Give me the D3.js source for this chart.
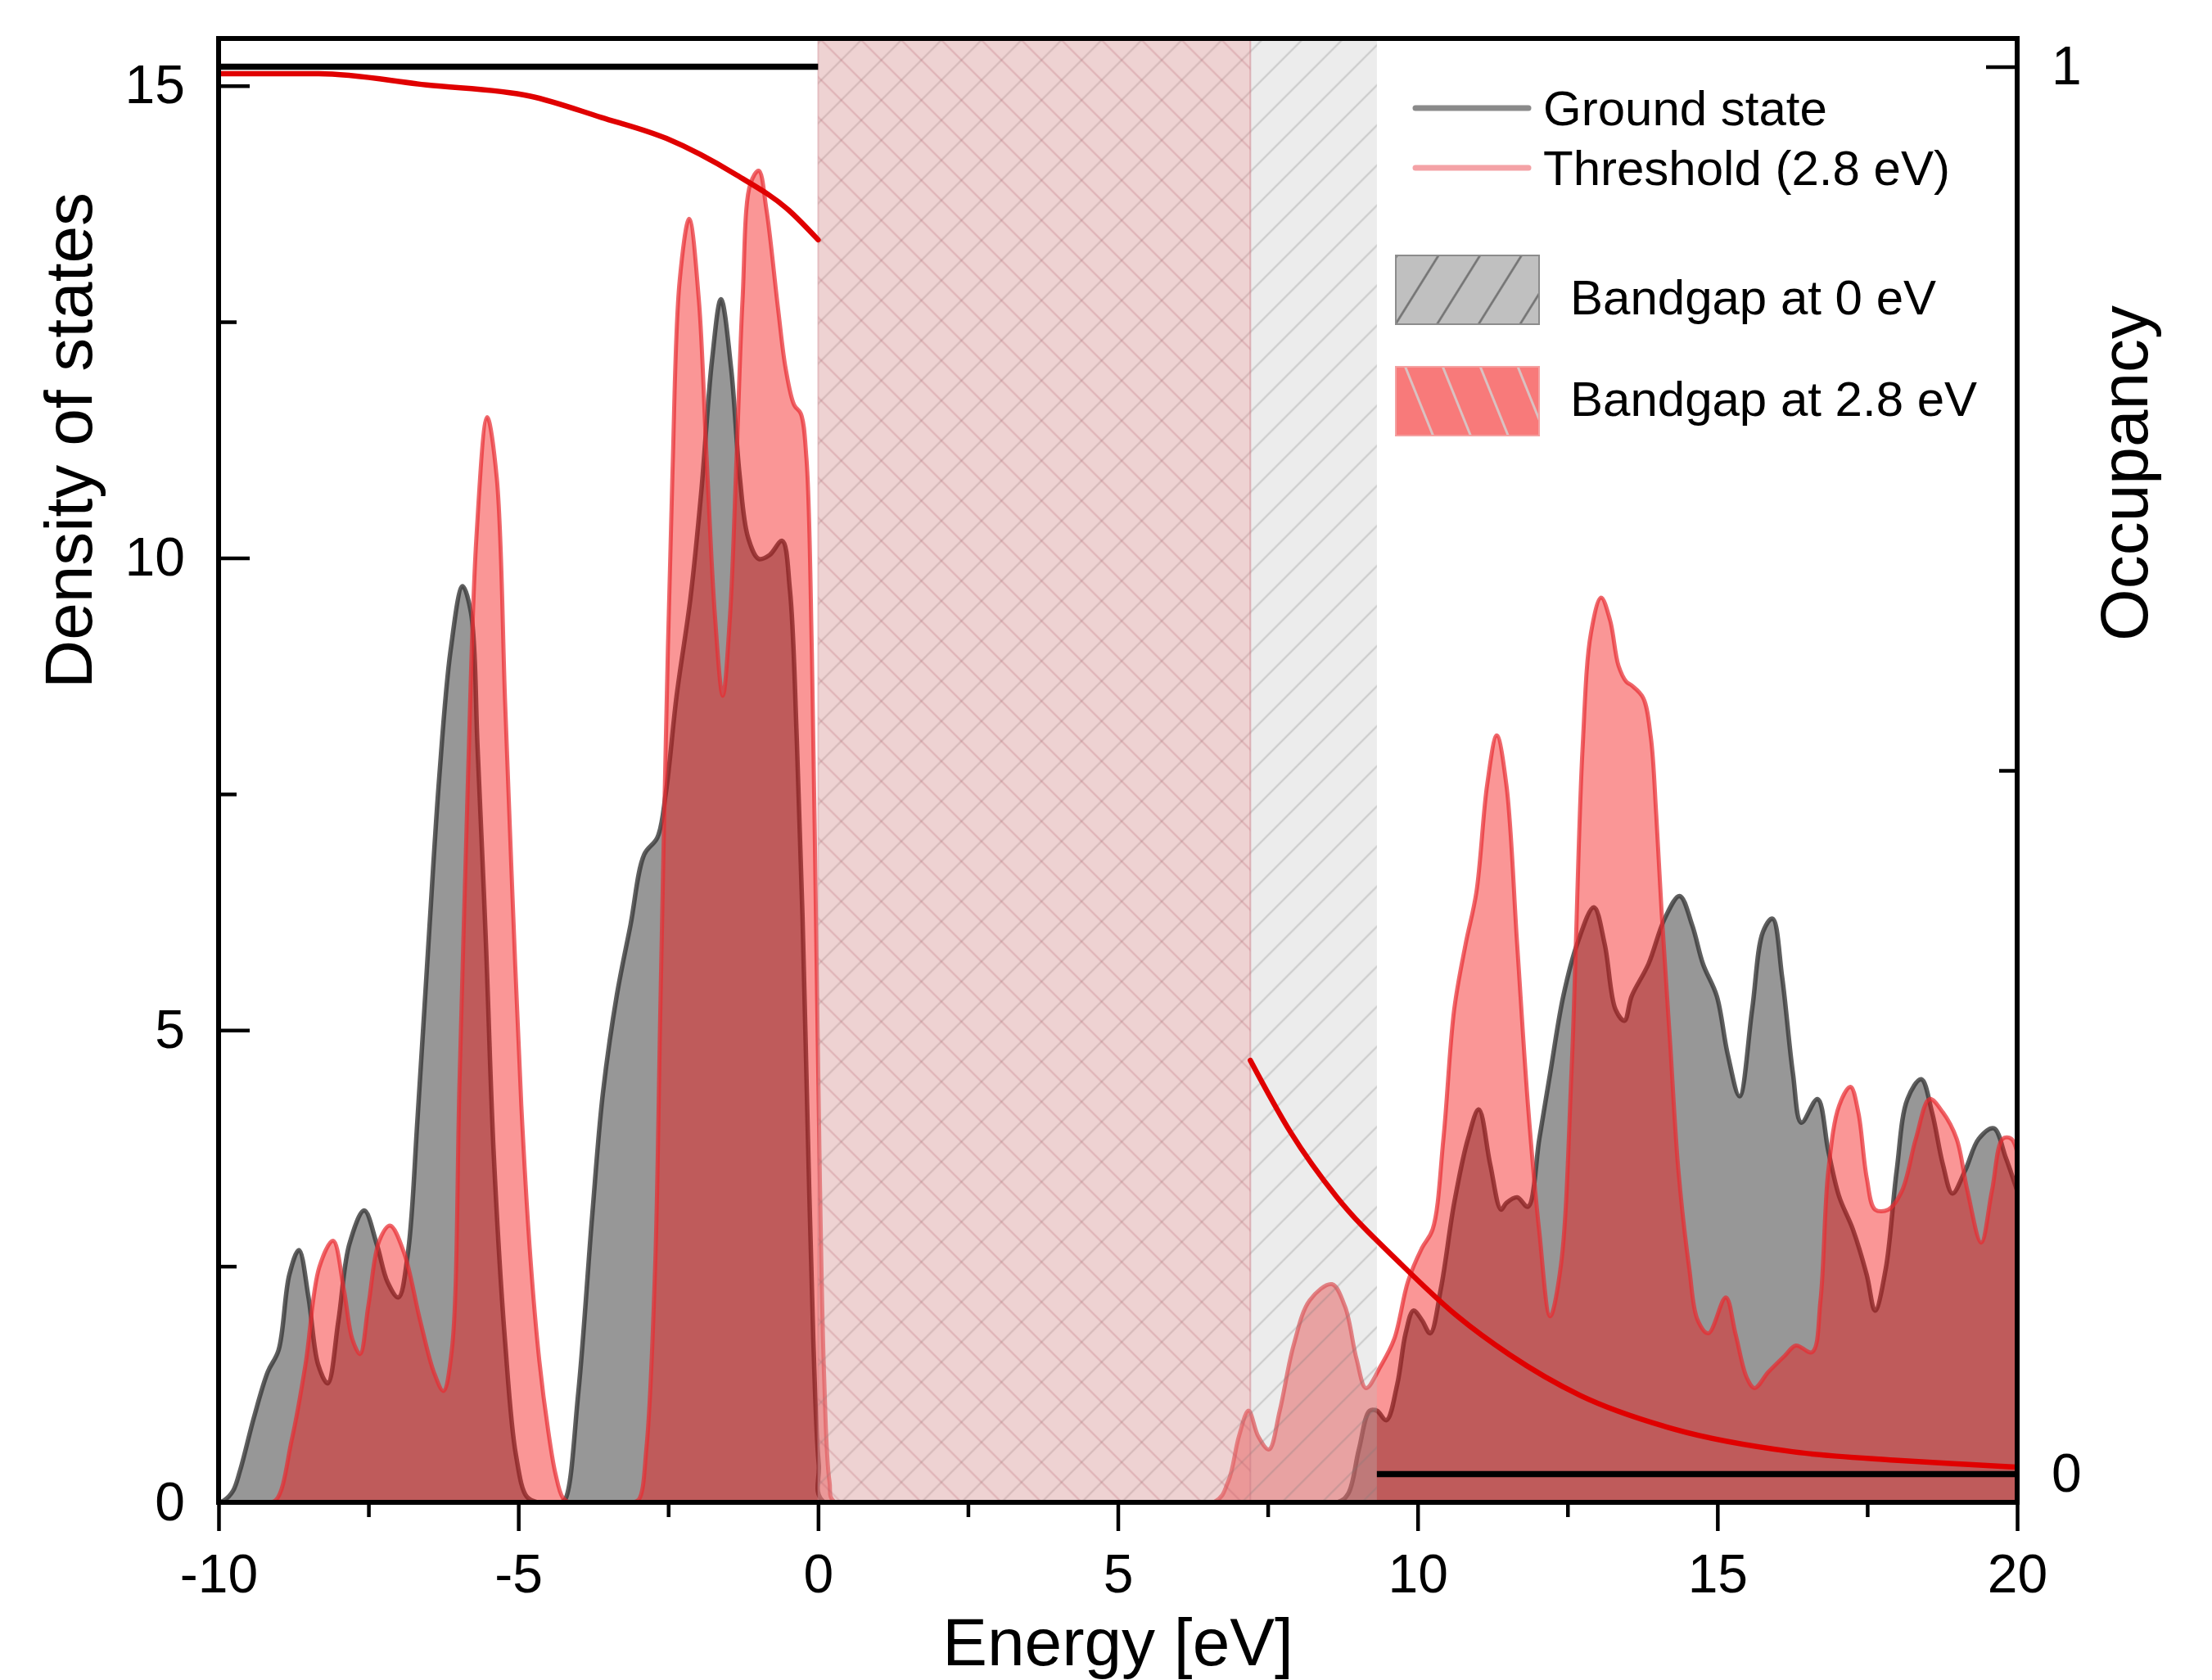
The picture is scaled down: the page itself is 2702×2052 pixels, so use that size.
<!DOCTYPE html>
<html>
<head>
<meta charset="utf-8">
<script src="https://cdn.jsdelivr.net/npm/d3@7"></script>
<style>
  html, body { margin: 0; padding: 0; background: #fff; }
  svg { display: block; font-family: Arial, "Liberation Sans", sans-serif; }
</style>
</head>
<body>
<svg id="chart" width="2702" height="2052"></svg>
<script>
// ---- Density of states, ground state (energy in eV, DOS) ----
const groundEnergy = [-10, -9.91, -9.76, -9.64, -9.41, -9.18, -9.0, -8.82, -8.66, -8.5, -8.34, -8.18, -8.0, -7.82, -7.57, -7.36, -7.18, -7.0, -6.84, -6.68, -6.5, -6.32, -6.13, -5.93, -5.79, -5.68, -5.54, -5.41, -5.22, -5.04, -4.86, -4.68,
  -4.3, -4.22, -4.0, -3.77, -3.59, -3.36, -3.13, -2.9, -2.68, -2.54, -2.36, -2.13, -1.95, -1.77, -1.62, -1.45, -1.31, -1.17, -0.99, -0.81, -0.6, -0.47, -0.355, -0.26, -0.17, -0.08, 0.01, 0.1,
  8.66, 8.84, 9.02, 9.2, 9.32, 9.48, 9.66, 9.8, 9.93, 10.07, 10.21, 10.39, 10.61, 10.84, 11.02, 11.21, 11.39, 11.48, 11.66, 11.84, 12.03, 12.21, 12.43, 12.66, 12.94, 13.12, 13.3, 13.45, 13.57, 13.85, 14.12, 14.37, 14.58, 14.76, 14.99, 15.17, 15.37, 15.58, 15.76, 15.92, 16.08, 16.26, 16.4, 16.67, 16.85, 17.03, 17.26, 17.49, 17.63, 17.81, 17.99, 18.17, 18.4, 18.58, 18.76, 18.92, 19.13, 19.36, 19.61, 19.81, 20];
const groundDos = [0, 0.02, 0.12, 0.34, 0.9, 1.38, 1.61, 2.41, 2.67, 2.17, 1.46, 1.26, 1.93, 2.73, 3.09, 2.73, 2.33, 2.17, 2.65, 4.08, 5.91, 7.67, 9.02, 9.7, 9.42, 7.99, 5.91, 3.68, 1.69, 0.5, 0.06, 0,
  0, 0.03, 1.16, 3.02, 4.33, 5.36, 6.11, 6.86, 7.04, 7.51, 8.54, 9.57, 10.69, 12.09, 12.74, 12.0, 10.88, 10.22, 9.99, 10.03, 10.18, 9.66, 8.07, 6.2, 3.87, 1.72, 0.41, 0,
  0, 0.09, 0.56, 0.97, 0.97, 0.87, 1.25, 1.79, 2.03, 1.93, 1.79, 2.27, 3.17, 3.85, 4.16, 3.58, 3.1, 3.17, 3.23, 3.13, 3.85, 4.54, 5.36, 5.91, 6.3, 5.91, 5.22, 5.1, 5.36, 5.7, 6.18, 6.42, 6.11, 5.7, 5.36, 4.75, 4.3, 5.22, 6.04, 6.18, 5.56, 4.54, 4.02, 4.27, 3.72, 3.24, 2.89, 2.41, 2.03, 2.48, 3.51, 4.27, 4.48, 4.13, 3.58, 3.27, 3.51, 3.85, 3.96, 3.65, 3.3];

// ---- Density of states at the 2.8 eV threshold ----
const thresholdEnergy = [-10, -9.3, -9.05, -8.78, -8.55, -8.32, -8.09, -7.91, -7.77, -7.64, -7.5, -7.32, -7.14, -6.91, -6.64, -6.41, -6.25, -6.11, -5.98, -5.84, -5.7, -5.52, -5.36, -5.22, -5.09, -4.95, -4.8, -4.65, -4.5, -4.38, -4.26, -4.15,
  -3.1, -2.99, -2.86, -2.72, -2.63, -2.54, -2.43, -2.31, -2.15, -1.99, -1.86, -1.72, -1.59, -1.47, -1.36, -1.26, -1.13, -0.99, -0.86, -0.67, -0.54, -0.4, -0.29, -0.195, -0.104, -0.036, 0.03, 0.1, 0.19, 0.28,
  6.6, 6.84, 7.02, 7.18, 7.34, 7.52, 7.7, 7.93, 8.2, 8.57, 8.79, 8.98, 9.14, 9.39, 9.61, 9.84, 10.07, 10.25, 10.43, 10.61, 10.8, 10.98, 11.16, 11.32, 11.48, 11.66, 11.84, 12.03, 12.21, 12.39, 12.57, 12.75, 12.89, 13.06, 13.21, 13.35, 13.48, 13.57, 13.76, 13.89, 13.98, 14.07, 14.21, 14.35, 14.53, 14.67, 14.85, 15.14, 15.3, 15.49, 15.62, 15.85, 16.12, 16.31, 16.58, 16.72, 16.85, 17.03, 17.22, 17.35, 17.49, 17.63, 17.85, 18.08, 18.31, 18.54, 18.76, 18.99, 19.17, 19.4, 19.58, 19.76, 19.9, 20];
const thresholdDos = [0, 0, 0.02, 0.66, 1.46, 2.49, 2.77, 2.25, 1.73, 1.57, 2.09, 2.77, 2.93, 2.65, 1.93, 1.38, 1.18, 1.61, 4.48, 7.67, 10.21, 11.49, 10.85, 8.46, 6.3, 4.2, 2.6, 1.5, 0.75, 0.3, 0.05, 0,
  0, 0.03, 0.6, 2.46, 5.27, 8.07, 10.88, 12.93, 13.59, 12.74, 11.06, 9.38, 8.54, 9.38, 11.06, 12.74, 13.96, 14.1, 13.68, 12.65, 12.0, 11.62, 11.53, 11.06, 9.0, 6.2, 3.4, 1.34, 0.22, 0,
  0, 0.22, 0.7, 0.97, 0.7, 0.56, 0.97, 1.66, 2.14, 2.31, 2.07, 1.52, 1.21, 1.45, 1.73, 2.34, 2.69, 2.89, 3.85, 5.22, 5.91, 6.46, 7.6, 8.12, 7.6, 5.91, 4.21, 2.86, 1.97, 2.51, 4.61, 7.97, 9.2, 9.58, 9.34, 8.86, 8.69, 8.65, 8.52, 8.1, 7.28, 6.25, 4.88, 3.51, 2.48, 1.93, 1.79, 2.17, 1.79, 1.32, 1.21, 1.38, 1.55, 1.66, 1.59, 2.14, 3.51, 4.2, 4.4, 4.13, 3.44, 3.1, 3.1, 3.3, 3.85, 4.27, 4.13, 3.85, 3.3, 2.75, 3.3, 3.85, 3.85, 3.71];

// ---- Occupancy (right axis) ----
const groundOccValenceE = [-10, 0];
const groundOccValence = [1, 1];
const groundOccConductionE = [9.32, 20];
const groundOccConduction = [0, 0];
const thresholdOccValenceE = [-10, -8.33, -6.53, -4.8, -3.62, -2.53, -1.36, -0.49, 0];
const thresholdOccValence = [0.995, 0.995, 0.987, 0.979, 0.964, 0.949, 0.923, 0.898, 0.877];
const thresholdOccConductionE = [7.21, 7.88, 8.65, 9.73, 10.67, 11.53, 12.71, 14.28, 16.25, 17.95, 19.13, 20];
const thresholdOccConduction = [0.294, 0.243, 0.197, 0.149, 0.112, 0.085, 0.056, 0.032, 0.016, 0.01, 0.007, 0.005];

// ---- Band gaps (eV) ----
const gapGroundStart = 0, gapGroundEnd = 9.32;
const gapThresholdStart = 0, gapThresholdEnd = 7.21;

// ---- Axis ticks ----
const xMajorTicks = [-10, -5, 0, 5, 10, 15, 20];
const xMinorTicks = [-7.5, -2.5, 2.5, 7.5, 12.5, 17.5];
const yMajorTicks = [0, 5, 10, 15];
const yMinorTicks = [2.5, 7.5, 12.5];
const occMajorTicks = [0, 1];
const occMinorTicks = [0.5];

const legendLines = ["Ground state", "Threshold (2.8 eV)"];
const legendBoxes = ["Bandgap at 0 eV", "Bandgap at 2.8 eV"];

// ---------------------------------------------------------------
const svg = d3.select("#chart");
const L = 267, R = 2464, T = 47, B = 1835;

const x = d3.scaleLinear().domain([-10, 20]).range([L, R]);
const y = d3.scaleLinear().domain([0, 15.5]).range([B, T]);
const yOcc = d3.scaleLinear().domain([-0.02, 1.02]).range([B, T]);

const zip = (a, b) => a.map((v, i) => [v, b[i]]);
const ground = zip(groundEnergy, groundDos);
const threshold = zip(thresholdEnergy, thresholdDos);

const defs = svg.append("defs");
defs.append("clipPath").attr("id", "plotClip")
  .append("rect").attr("x", L).attr("y", T).attr("width", R - L).attr("height", B - T);

function hatch(id, angle, spacing, color, width) {
  const p = defs.append("pattern").attr("id", id)
    .attr("patternUnits", "userSpaceOnUse")
    .attr("width", spacing).attr("height", spacing)
    .attr("patternTransform", `rotate(${angle})`);
  p.append("line")
    .attr("x1", spacing / 2).attr("x2", spacing / 2)
    .attr("y1", -1).attr("y2", spacing + 1)
    .attr("stroke", color).attr("stroke-width", width);
}
hatch("hatchGap0", 45, 34.6, "rgba(120,120,120,0.3)", 2);
hatch("hatchGap28", -45, 34.6, "rgba(180,90,105,0.28)", 2);
hatch("hatchLegend0", 32, 43, "#6f6f6f", 2.5);
hatch("hatchLegend28", -22, 42.5, "#d9c2c2", 3);

const plot = svg.append("g").attr("clip-path", "url(#plotClip)");

const smooth = d3.curveCatmullRom.alpha(0.5);
const area = d3.area().x(d => x(d[0])).y0(y(0)).y1(d => y(Math.max(0, d[1]))).curve(smooth);
const line = d3.line().x(d => x(d[0])).y(d => y(d[1])).curve(smooth);

// ground-state DOS
plot.append("path").datum(ground).attr("d", area).attr("fill", "#979797");
plot.append("path").datum(ground).attr("d", line)
  .attr("fill", "none").attr("stroke", "rgba(55,55,55,0.8)").attr("stroke-width", 5.5)
  .attr("stroke-linejoin", "round");

// threshold DOS (translucent, on top)
plot.append("path").datum(threshold).attr("d", area).attr("fill", "rgba(244,16,16,0.44)");
plot.append("path").datum(threshold).attr("d", line)
  .attr("fill", "none").attr("stroke", "rgba(232,45,50,0.72)").attr("stroke-width", 5)
  .attr("stroke-linejoin", "round");

// band gap shading
plot.append("rect")
  .attr("x", x(gapGroundStart)).attr("y", T)
  .attr("width", x(gapGroundEnd) - x(gapGroundStart)).attr("height", B - T)
  .attr("fill", "rgba(192,192,192,0.3)");
plot.append("rect")
  .attr("x", x(gapGroundStart)).attr("y", T)
  .attr("width", x(gapGroundEnd) - x(gapGroundStart)).attr("height", B - T)
  .attr("fill", "url(#hatchGap0)");
plot.append("rect")
  .attr("x", x(gapThresholdStart)).attr("y", T)
  .attr("width", x(gapThresholdEnd) - x(gapThresholdStart)).attr("height", B - T)
  .attr("fill", "rgba(248,120,120,0.22)");
plot.append("rect")
  .attr("x", x(gapThresholdStart)).attr("y", T)
  .attr("width", x(gapThresholdEnd) - x(gapThresholdStart)).attr("height", B - T)
  .attr("fill", "url(#hatchGap28)");
plot.append("line")
  .attr("x1", x(gapThresholdEnd)).attr("x2", x(gapThresholdEnd)).attr("y1", T).attr("y2", B)
  .attr("stroke", "rgba(200,120,130,0.45)").attr("stroke-width", 2);
plot.append("line")
  .attr("x1", x(gapThresholdStart)).attr("x2", x(gapThresholdStart)).attr("y1", T).attr("y2", B)
  .attr("stroke", "rgba(200,120,130,0.35)").attr("stroke-width", 2);

// occupancy curves
const occLine = d3.line().x(d => x(d[0])).y(d => yOcc(d[1])).curve(d3.curveMonotoneX);
[[groundOccValenceE, groundOccValence], [groundOccConductionE, groundOccConduction]].forEach(([e, o]) => {
  plot.append("path").datum(zip(e, o)).attr("d", occLine)
    .attr("fill", "none").attr("stroke", "#000").attr("stroke-width", 7.5);
});
[[thresholdOccValenceE, thresholdOccValence], [thresholdOccConductionE, thresholdOccConduction]].forEach(([e, o]) => {
  plot.append("path").datum(zip(e, o)).attr("d", occLine)
    .attr("fill", "none").attr("stroke", "#e00000").attr("stroke-width", 6.5)
    .attr("stroke-linecap", "round");
});

// ---- axes ----
const tickFont = 66;
const plain = d => String(d);
function styleAxis(g) {
  g.select(".domain").remove();
  g.selectAll(".tick line").attr("stroke", "#000").attr("stroke-width", 4.5);
  g.selectAll(".tick text").attr("font-size", tickFont).attr("fill", "#000")
    .attr("font-family", "Arial, 'Liberation Sans', sans-serif");
}
svg.append("g").attr("transform", `translate(0,${B})`)
  .call(d3.axisBottom(x).tickValues(xMajorTicks).tickSize(35).tickPadding(28).tickFormat(plain))
  .call(styleAxis);
svg.append("g").attr("transform", `translate(0,${B})`)
  .call(d3.axisBottom(x).tickValues(xMinorTicks).tickSize(18).tickFormat(""))
  .call(styleAxis);
svg.append("g").attr("transform", `translate(${L},0)`)
  .call(d3.axisLeft(y).tickValues(yMajorTicks).tickSizeInner(-38).tickSizeOuter(0).tickPadding(41).tickFormat(plain))
  .call(styleAxis);
svg.append("g").attr("transform", `translate(${L},0)`)
  .call(d3.axisLeft(y).tickValues(yMinorTicks).tickSizeInner(-22).tickSizeOuter(0).tickFormat(""))
  .call(styleAxis);
svg.append("g").attr("transform", `translate(${R},0)`)
  .call(d3.axisRight(yOcc).tickValues(occMajorTicks).tickSizeInner(-38).tickSizeOuter(0).tickPadding(42).tickFormat(plain))
  .call(styleAxis);
svg.append("g").attr("transform", `translate(${R},0)`)
  .call(d3.axisRight(yOcc).tickValues(occMinorTicks).tickSizeInner(-22).tickSizeOuter(0).tickFormat(""))
  .call(styleAxis);

// frame
svg.append("rect").attr("x", L).attr("y", T).attr("width", R - L).attr("height", B - T)
  .attr("fill", "none").attr("stroke", "#000").attr("stroke-width", 6);

// axis titles
const titleFont = 82;
svg.append("text").attr("x", (L + R) / 2).attr("y", 2034).attr("text-anchor", "middle")
  .attr("font-size", titleFont).text("Energy [eV]");
svg.append("text").attr("transform", "translate(112,538) rotate(-90)").attr("text-anchor", "middle")
  .attr("font-size", titleFont).text("Density of states");
svg.append("text").attr("transform", "translate(2623,578) rotate(-90)").attr("text-anchor", "middle")
  .attr("font-size", titleFont).text("Occupancy");

// ---- legend ----
const legend = svg.append("g");
const legendFont = 60;
const lineColors = ["#8a8a8a", "#f4a2a6"];
const lineRows = [132, 205];
legendLines.forEach((label, i) => {
  legend.append("line").attr("x1", 1729).attr("x2", 1867).attr("y1", lineRows[i]).attr("y2", lineRows[i])
    .attr("stroke", lineColors[i]).attr("stroke-width", 7).attr("stroke-linecap", "round");
  legend.append("text").attr("x", 1885).attr("y", lineRows[i] + 21).attr("font-size", legendFont).text(label);
});
const boxTops = [312, 448];
const boxFills = ["#c0c0c0", "#f87a7a"];
const boxHatch = ["url(#hatchLegend0)", "url(#hatchLegend28)"];
const boxStroke = ["#8c8c8c", "#f4a0a0"];
const textRows = [384, 508];
legendBoxes.forEach((label, i) => {
  const bx = 1705, bw = 175, bh = 84;
  legend.append("rect").attr("x", bx).attr("y", boxTops[i]).attr("width", bw).attr("height", bh)
    .attr("fill", boxFills[i]);
  legend.append("rect").attr("x", bx).attr("y", boxTops[i]).attr("width", bw).attr("height", bh)
    .attr("fill", boxHatch[i]).attr("stroke", boxStroke[i]).attr("stroke-width", 2);
  legend.append("text").attr("x", 1918).attr("y", textRows[i]).attr("font-size", legendFont).text(label);
});
</script>
</body>
</html>
